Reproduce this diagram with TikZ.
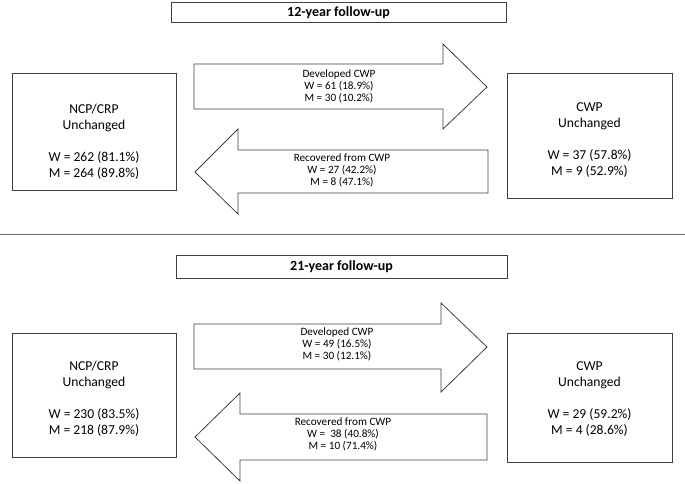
\documentclass[tikz,border=0pt]{standalone}
\usepackage{fontspec}
\setmainfont{Carlito}
\begin{document}
\begin{tikzpicture}[x=1pt,y=-1pt,
  shapeline/.style={draw=black!75,line width=0.8pt,fill=white},
  boxtext/.style={align=center,font=\fontsize{13.6}{16}\selectfont,inner sep=0pt},
  arrowtext/.style={align=center,font=\fontsize{11.2}{11.8}\selectfont,inner sep=0pt},
  titletext/.style={font=\fontsize{14}{16}\selectfont\bfseries,inner sep=0pt}]
\useasboundingbox (0,0) rectangle (685,483);
\fill[white] (0,0) rectangle (685,483);

% ---------- 12-year ----------
\draw[shapeline] (171,2) rectangle (506,22);
\node[titletext] (t1) at (338.5,12.5) {12-year follow-up};

\draw[shapeline] (12,73) rectangle (176,190);
\node[boxtext] (ncp1) at (94,141.5) {NCP/CRP\\Unchanged\\[16pt]W = 262 (81.1\%)\\M = 264 (89.8\%)};

\draw[shapeline] (507,73) rectangle (672,198);
\node[boxtext] (cwp1) at (589.5,140.5) {CWP\\Unchanged\\[16pt]W = 37 (57.8\%)\\M = 9 (52.9\%)};

\draw[shapeline] (194,64) -- (443,64) -- (443,44) -- (487,87) -- (443,129) -- (443,109) -- (194,109) -- cycle;
\node[arrowtext] (dev1) at (339,86.5) {Developed CWP\\W = 61 (18.9\%)\\M = 30 (10.2\%)};

\draw[shapeline] (488,150) -- (238,150) -- (238,129) -- (195,172) -- (238,214) -- (238,193) -- (488,193) -- cycle;
\node[arrowtext] (rec1) at (342,170.5) {Recovered from CWP\\W = 27 (42.2\%)\\M = 8 (47.1\%)};

% ---------- divider ----------
\coordinate (dl) at (0,234);
\coordinate (dr) at (685,234);
\draw[black!60,line width=1pt] (dl) -- (dr);

% ---------- 21-year ----------
\draw[shapeline] (176,255) rectangle (507,278);
\node[titletext] (t2) at (341.5,267) {21-year follow-up};

\draw[shapeline] (12,333) rectangle (176,457);
\node[boxtext] (ncp2) at (94,399) {NCP/CRP\\Unchanged\\[16pt]W = 230 (83.5\%)\\M = 218 (87.9\%)};

\draw[shapeline] (507,333) rectangle (672,462);
\node[boxtext] (cwp2) at (589.5,399) {CWP\\Unchanged\\[16pt]W = 29 (59.2\%)\\M = 4 (28.6\%)};

\draw[shapeline] (194,324) -- (441,324) -- (441,303) -- (487,347) -- (441,392) -- (441,369) -- (194,369) -- cycle;
\node[arrowtext] (dev2) at (337,344.5) {Developed CWP\\W = 49 (16.5\%)\\M = 30 (12.1\%)};

\draw[shapeline] (487,414) -- (240,414) -- (240,393) -- (195,437) -- (240,481) -- (240,460) -- (487,460) -- cycle;
\node[arrowtext] (rec2) at (343,434.5) {Recovered from CWP\\W =~ 38 (40.8\%)\\M = 10 (71.4\%)};
\end{tikzpicture}
\end{document}
